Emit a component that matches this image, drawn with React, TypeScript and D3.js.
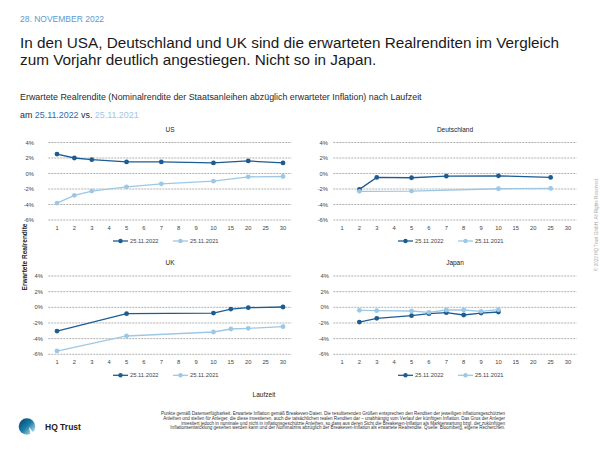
import React from "react";
import * as d3 from "d3";

const categories = ["1", "2", "3", "4", "5", "6", "7", "8", "9", "10", "15", "20", "25", "30"];
const yTicks = [4, 2, 0, -2, -4, -6];
const seriesLabels = ["25.11.2022", "25.11.2021"];

const usMat = ["1", "2", "3", "5", "7", "10", "20", "30"];
const us2022 = [2.51, 2.0, 1.79, 1.49, 1.49, 1.36, 1.62, 1.36];
const us2021 = [-3.82, -2.82, -2.27, -1.72, -1.33, -0.99, -0.43, -0.39];

const deMat2022 = ["2", "3", "5", "7", "10", "25"];
const de2022 = [-2.05, -0.51, -0.55, -0.34, -0.3, -0.51];
const deMat2021 = ["2", "5", "10", "25"];
const de2021 = [-2.3, -2.27, -1.97, -1.93];

const ukMat = ["1", "5", "10", "15", "20", "30"];
const uk2022 = [-3.03, -0.81, -0.73, -0.22, -0.04, 0.04];
const uk2021 = [-5.58, -3.66, -3.15, -2.77, -2.68, -2.47];

const jpMat = ["2", "3", "5", "6", "7", "8", "9", "10"];
const jp2022 = [-1.88, -1.41, -1.07, -0.81, -0.68, -0.98, -0.73, -0.6];
const jp2021 = [-0.38, -0.43, -0.47, -0.64, -0.34, -0.34, -0.51, -0.3];

const footerLines = [
  "Punkte gemäß Datenverfügbarkeit. Erwartete Inflation gemäß Breakeven-Daten. Die resultierenden Größen entsprechen den Renditen der jeweiligen inflationsgeschützten",
  "Anleihen und stellen für Anleger, die diese investieren, auch die tatsächlichen realen Renditen dar – unabhängig vom Verlauf der künftigen Inflation. Das Gros der Anleger",
  "investiert jedoch in nominale und nicht in inflationsgeschützte Anleihen, so dass aus deren Sicht die Breakeven-Inflation als Markterwartung bzgl. der zukünftigen",
  "Inflationsentwicklung gesehen werden kann und der Nominalzins abzüglich der Breakeven-Inflation als erwartete Realrendite. Quelle: Bloomberg, eigene Recherchen.",
];

const DARK = "#1c5c92";
const LIGHT = "#9cc8e6";
const NARROW = "'Liberation Sans Narrow', 'Liberation Sans', Arial, sans-serif";
const SANS = "'Liberation Sans', Arial, Helvetica, sans-serif";

type Series = { mats: string[]; vals: number[]; color: string };

function Panel(props: {
  title: string;
  x0: number;
  x1: number;
  yTop: number;
  yBot: number;
  labelX: number;
  legendX: number;
  series: Series[];
}) {
  const { title, x0, x1, yTop, yBot, labelX, legendX, series } = props;
  const x = d3.scaleBand<string>().domain(categories).range([x0, x1]);
  const y = d3.scaleLinear().domain([-6, 4]).range([yBot, yTop]);
  const cx = (c: string) => (x(c) as number) + x.bandwidth() / 2;
  const line = d3
    .line<[string, number]>()
    .x((d) => cx(d[0]))
    .y((d) => y(d[1]));
  const legendY = yBot + 21;
  return (
    <g>
      <text x={(x0 + x1) / 2} y={yTop - 11} fontSize={6.5} textAnchor="middle" fontFamily={NARROW} fill="#222">
        {title}
      </text>
      {yTicks.map((t) => (
        <g key={t}>
          <line x1={x0} x2={x1} y1={y(t)} y2={y(t)} stroke="#8f8f8f" strokeWidth={0.7} strokeDasharray="2,1" />
          <text x={labelX} y={y(t) + 2} fontSize={5.8} textAnchor="end" fontFamily={NARROW} fill="#444">
            {t}%
          </text>
        </g>
      ))}
      {categories.map((c) => (
        <text key={c} x={cx(c)} y={yBot + 10} fontSize={5.8} textAnchor="middle" fontFamily={NARROW} fill="#444">
          {c}
        </text>
      ))}
      {series.map((s, i) => {
        const pts = s.mats.map((m, j) => [m, s.vals[j]] as [string, number]);
        return (
          <g key={i}>
            <path d={line(pts) || ""} fill="none" stroke={s.color} strokeWidth={1.3} />
            {pts.map((p, j) => (
              <circle key={j} cx={cx(p[0])} cy={y(p[1])} r={2.4} fill={s.color} />
            ))}
          </g>
        );
      })}
      {series.map((s, i) => {
        const lx = legendX + i * 60;
        return (
          <g key={"l" + i}>
            <line x1={lx} x2={lx + 15} y1={legendY} y2={legendY} stroke={s.color} strokeWidth={1.3} />
            <circle cx={lx + 7.5} cy={legendY} r={2.2} fill={s.color} />
            <text x={lx + 17} y={legendY + 2} fontSize={5.8} fontFamily={NARROW} fill="#444">
              {seriesLabels[i]}
            </text>
          </g>
        );
      })}
    </g>
  );
}

export default function App() {
  return (
    <svg width={600} height={450} style={{ display: "block", position: "absolute", left: 0, top: 0 }}>
      <rect width={600} height={450} fill="#fff" />
      <defs>
        <linearGradient id="logoGrad" x1="0" y1="0" x2="1" y2="1">
          <stop offset="0" stopColor="#0a3d6b" />
          <stop offset="0.5" stopColor="#1a7fa8" />
          <stop offset="1" stopColor="#e8f4f8" />
        </linearGradient>
      </defs>
      <text x={20} y={22} fontSize={8.5} fontFamily={SANS} fill="#5a9bd0">
        28. NOVEMBER 2022
      </text>
      <text x={20} y={48} fontSize={15.3} fontFamily={SANS} fill="#1a1a1a">
        In den USA, Deutschland und UK sind die erwarteten Realrenditen im Vergleich
      </text>
      <text x={20} y={65} fontSize={15.3} fontFamily={SANS} fill="#1a1a1a">
        zum Vorjahr deutlich angestiegen. Nicht so in Japan.
      </text>
      <text x={20} y={100} fontSize={8.9} fontFamily={SANS} fill="#2a2a2a">
        Erwartete Realrendite (Nominalrendite der Staatsanleihen abzüglich erwarteter Inflation) nach Laufzeit
      </text>
      <text x={20} y={118} fontSize={8.9} fontFamily={SANS} fill="#2a2a2a">
        am <tspan fill="#2a6fa8">25.11.2022</tspan> vs. <tspan fill="#9cc8e6">25.11.2021</tspan>
      </text>

      <Panel
        title="US"
        x0={48.3}
        x1={291.7}
        yTop={142.5}
        yBot={220}
        labelX={34}
        legendX={113}
        series={[
          { mats: usMat, vals: us2022, color: DARK },
          { mats: usMat, vals: us2021, color: LIGHT },
        ]}
      />
      <Panel
        title="Deutschland"
        x0={333.3}
        x1={576.7}
        yTop={142.5}
        yBot={220}
        labelX={328}
        legendX={398}
        series={[
          { mats: deMat2022, vals: de2022, color: DARK },
          { mats: deMat2021, vals: de2021, color: LIGHT },
        ]}
      />
      <Panel
        title="UK"
        x0={48.3}
        x1={291.7}
        yTop={276}
        yBot={354.3}
        labelX={43}
        legendX={113}
        series={[
          { mats: ukMat, vals: uk2022, color: DARK },
          { mats: ukMat, vals: uk2021, color: LIGHT },
        ]}
      />
      <Panel
        title="Japan"
        x0={333.3}
        x1={576.7}
        yTop={276}
        yBot={354.3}
        labelX={329}
        legendX={398}
        series={[
          { mats: jpMat, vals: jp2022, color: DARK },
          { mats: jpMat, vals: jp2021, color: LIGHT },
        ]}
      />

      <text
        transform="translate(27,257) rotate(-90)"
        fontSize={6.5}
        textAnchor="middle"
        fontFamily={NARROW}
        fontWeight="bold"
        fill="#222"
      >
        Erwartete Realrendite
      </text>
      <text x={264} y={397} fontSize={6.5} textAnchor="middle" fontFamily={NARROW} fill="#222">
        Laufzeit
      </text>
      <text transform="translate(598,271) rotate(-90)" fontSize={4.6} fontFamily={SANS} fill="#aaa">
        © 2022 HQ Trust GmbH. All Rights Reserved.
      </text>

      {footerLines.map((l, i) => (
        <text key={i} x={505} y={415 + i * 4.8} fontSize={4.55} textAnchor="end" fontFamily={NARROW} fill="#333">
          {l}
        </text>
      ))}

      <g>
        <circle cx={27} cy={426.5} r={8.3} fill="url(#logoGrad)" />
        <path d="M 29 427 L 36 436 L 31 437 Z" fill="#fff" />
        <text x={45} y={430} fontSize={8.5} fontWeight="bold" fontFamily={SANS} fill="#222">
          HQ Trust
        </text>
      </g>
    </svg>
  );
}
